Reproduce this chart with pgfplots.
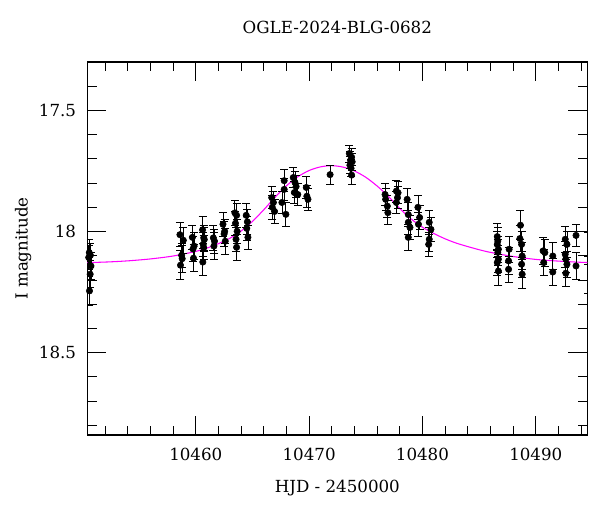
\documentclass[border=0pt]{standalone}
\usepackage{fontspec}
\setmainfont{DejaVu Serif}
\usepackage{pgfplots}
\usepackage{pgfplotstable}
\pgfplotsset{compat=1.18}
\definecolor{mag}{RGB}{255,0,255}
\pgfplotstableread{
t m e
10450.60 18.087 0.055
10450.70 18.098 0.05
10450.55 18.107 0.05
10450.75 18.142 0.055
10450.68 18.176 0.055
10450.62 18.245 0.06
10458.60 18.013 0.05
10458.90 18.036 0.055
10458.75 18.098 0.05
10458.80 18.112 0.055
10458.65 18.139 0.06
10459.70 18.024 0.05
10459.85 18.060 0.055
10459.75 18.072 0.05
10459.80 18.110 0.055
10460.60 17.993 0.055
10460.70 18.026 0.05
10460.75 18.033 0.05
10460.65 18.053 0.05
10460.70 18.066 0.05
10460.62 18.126 0.055
10461.55 18.026 0.05
10461.65 18.040 0.05
10461.60 18.060 0.055
10462.40 17.970 0.05
10462.55 17.999 0.05
10462.50 18.010 0.05
10462.60 18.040 0.055
10463.45 17.923 0.05
10463.60 17.933 0.05
10463.50 17.966 0.05
10463.65 17.999 0.05
10463.55 18.032 0.05
10463.60 18.065 0.055
10464.45 17.933 0.05
10464.55 17.960 0.05
10464.50 17.987 0.05
10464.60 18.024 0.05
10466.70 17.860 0.045
10466.85 17.880 0.045
10466.75 17.900 0.05
10466.95 17.917 0.05
10467.60 17.880 0.045
10467.80 17.790 0.045
10467.80 17.826 0.045
10467.95 17.929 0.05
10468.60 17.777 0.04
10468.75 17.797 0.045
10468.85 17.814 0.045
10468.70 17.839 0.045
10469.00 17.847 0.045
10469.75 17.818 0.045
10469.80 17.854 0.045
10469.90 17.867 0.045
10471.85 17.765 0.04
10473.55 17.678 0.035
10473.75 17.693 0.035
10473.65 17.706 0.035
10473.80 17.712 0.035
10473.60 17.726 0.035
10473.70 17.739 0.035
10473.75 17.767 0.04
10476.70 17.847 0.045
10476.75 17.867 0.045
10476.90 17.895 0.045
10476.95 17.922 0.05
10477.70 17.833 0.045
10477.85 17.840 0.045
10477.80 17.860 0.045
10477.70 17.880 0.045
10478.65 17.867 0.045
10478.75 17.930 0.05
10478.75 17.962 0.05
10478.90 17.983 0.05
10478.75 18.024 0.055
10479.60 17.900 0.05
10479.75 17.942 0.05
10479.65 17.970 0.05
10480.60 17.962 0.05
10480.75 17.991 0.05
10480.60 18.032 0.05
10480.55 18.053 0.05
10486.60 18.021 0.055
10486.65 18.039 0.055
10486.60 18.053 0.055
10486.70 18.073 0.055
10486.65 18.086 0.055
10486.70 18.114 0.055
10486.60 18.128 0.055
10486.70 18.163 0.06
10487.65 18.073 0.055
10487.60 18.121 0.055
10487.60 18.156 0.055
10488.65 17.974 0.06
10488.60 18.029 0.055
10488.75 18.053 0.055
10488.80 18.101 0.055
10488.75 18.135 0.055
10488.80 18.176 0.06
10490.65 18.080 0.055
10490.80 18.087 0.055
10490.70 18.128 0.055
10491.50 18.101 0.055
10491.50 18.167 0.055
10492.60 18.032 0.055
10492.75 18.053 0.055
10492.60 18.094 0.055
10492.65 18.114 0.055
10492.75 18.135 0.055
10492.65 18.172 0.055
10493.55 18.016 0.045
10493.55 18.142 0.055
10494.60 18.053 0.05
10494.60 18.197 0.06
}\obs
\pgfplotstableread{
t m
10449.0 18.130
10452.0 18.126
10454.0 18.121
10456.0 18.113
10458.0 18.101
10460.0 18.082
10461.0 18.068
10462.0 18.050
10463.0 18.028
10464.0 17.998
10465.0 17.958
10466.0 17.910
10467.0 17.858
10468.0 17.811
10469.0 17.774
10470.0 17.748
10471.0 17.733
10472.0 17.728
10473.0 17.734
10474.0 17.750
10475.0 17.776
10476.0 17.812
10477.0 17.855
10478.0 17.905
10479.0 17.948
10480.0 17.982
10481.0 18.008
10482.0 18.030
10483.0 18.048
10484.0 18.062
10485.0 18.075
10486.0 18.086
10488.0 18.103
10490.0 18.115
10492.0 18.122
10494.0 18.127
10496.0 18.130
}\model
\begin{document}
\begin{tikzpicture}
\useasboundingbox (-65.5pt,-57.75pt) rectangle (384.5pt,326.25pt);
\begin{axis}[
  at={(0,0)}, anchor=south west,
  scale only axis,
  width=375pt, height=279.75pt,
  y coord trafo/.code={\pgfmathparse{-(#1)}},
  y coord inv trafo/.code={\pgfmathparse{-(#1)}},
  xmin=10450.43, xmax=10494.55,
  ymin=18.84, ymax=17.30,
  axis line style={line width=0.8pt},
  xtick={10460,10470,10480,10490},
  xticklabels={10460,10470,10480,10490},
  scaled x ticks=false,
  ytick={18.5,18,17.5},
  yticklabels={18.5,18,17.5},
  minor xtick={10452,10454,10456,10458,10462,10464,10466,10468,10472,10474,10476,10478,10482,10484,10486,10488,10492,10494},
  minor ytick={17.4,17.6,17.7,17.8,17.9,18.1,18.2,18.3,18.4,18.6,18.7,18.8},
  tick align=inside,
  xtick pos=both, ytick pos=both,
  major tick length=14.25pt,
  minor tick length=7pt,
  every tick/.style={line width=0.7pt, black},
  xticklabel style={anchor=base, yshift=-19pt},
  yticklabel style={anchor=east, inner sep=0pt, xshift=-8.25pt},
  font=\fontsize{12.5}{15}\selectfont,
  title={OGLE-2024-BLG-0682},
  title style={at={(axis description cs:0.5,1)}, anchor=base, yshift=15.75pt, inner sep=0pt},
  xlabel={HJD - 2450000},
  xlabel style={at={(axis description cs:0.5,0)}, anchor=base, yshift=-42.75pt, inner sep=0pt},
  ylabel={I magnitude},
  ylabel style={at={(axis description cs:-0.1285,0.5)}, anchor=center, inner sep=0pt},
  clip=true,
]
\addplot[color=mag, line width=0.8pt, smooth, no markers] table[x=t, y=m] {\model};
\addplot[only marks, mark=*, mark size=2.4pt, black,
  error bars/.cd, y dir=both, y explicit,
  error bar style={line width=0.6pt, black},
  error mark options={rotate=90, mark size=3pt, line width=0.6pt, black}]
  table[x=t, y=m, y error=e] {\obs};
\end{axis}
\end{tikzpicture}
\end{document}
